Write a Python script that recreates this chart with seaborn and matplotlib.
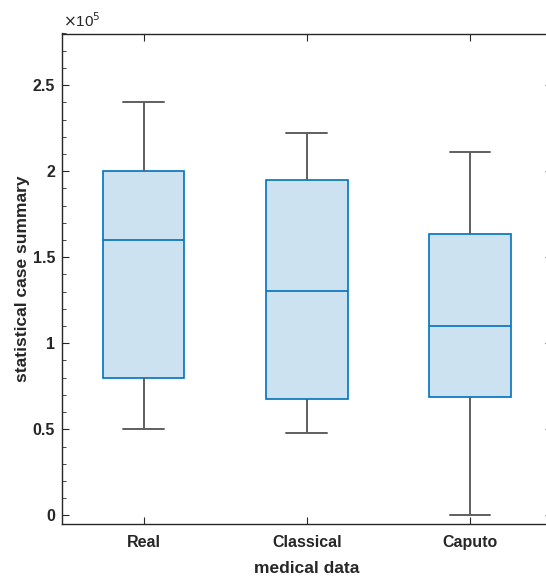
import numpy as np
import pandas as pd
import matplotlib
matplotlib.use("Agg")
import matplotlib.pyplot as plt
import seaborn as sns
from matplotlib.ticker import MultipleLocator, FuncFormatter

# five-number summaries (units of 1e5)
groups = ["Real", "Classical", "Caputo"]
real_vals = [0.50, 0.80, 1.60, 2.00, 2.40]
classical_vals = [0.48, 0.676, 1.305, 1.95, 2.22]
caputo_vals = [0.0, 0.686, 1.10, 1.635, 2.11]

df = pd.DataFrame({
    "group": np.repeat(groups, 5),
    "value": np.concatenate([real_vals, classical_vals, caputo_vals]) * 1e5,
})

sns.set_style("white")
plt.rcParams["font.family"] = ["Liberation Sans", "DejaVu Sans"]

fig = plt.figure(figsize=(5.46, 5.77), dpi=100)
W, H = 546, 577
ax = fig.add_axes([62 / W, (H - 524) / H, (551.5 - 62) / W, (524 - 33.5) / H])

edge = "#0072BD"
grey = "#5f5f5f"
sns.boxplot(
    data=df, x="group", y="value", order=groups, ax=ax,
    width=0.5, whis=(0, 100), color="#cce2f1", saturation=1,
    linewidth=1.2,
    boxprops=dict(facecolor="#cce2f1", edgecolor=edge, linewidth=1.2),
    medianprops=dict(color=edge, linewidth=1.2),
    whiskerprops=dict(color=grey, linewidth=1.4),
    capprops=dict(color=grey, linewidth=1.4),
)

ax.set_xlim(-0.5, 2.5)
ax.set_ylim(-0.05e5, 2.8e5)
ax.yaxis.set_major_locator(MultipleLocator(0.5e5))
ax.yaxis.set_minor_locator(MultipleLocator(0.1e5))
ax.yaxis.set_major_formatter(FuncFormatter(lambda v, p: f"{v / 1e5:g}"))

for s in ax.spines.values():
    s.set_visible(True)
    s.set_color("#262626")
    s.set_linewidth(1.0)

ax.tick_params(axis="both", which="both", direction="in", top=True, right=True,
               bottom=True, left=True,
               color="#262626", labelsize=11.5, labelcolor="#262626")
ax.tick_params(axis="both", which="major", length=5, width=0.8)
ax.tick_params(axis="y", which="minor", length=3, width=0.6)
ax.tick_params(axis="x", which="minor", bottom=False, top=False)
ax.tick_params(axis="y", pad=5)
ax.tick_params(axis="x", pad=8)
for lab in ax.get_xticklabels() + ax.get_yticklabels():
    lab.set_fontweight("bold")

ax.set_xlabel("medical data", fontsize=12.5, fontweight="bold", color="#262626", labelpad=8)
ax.set_ylabel("statistical case summary", fontsize=12.5, fontweight="bold", color="#262626", labelpad=2)
fig.text(63 / W, 1 - 27 / H, r"$\times$10$^5$", fontsize=11, color="#262626", va="baseline")

fig.savefig("out.png", dpi=100)
